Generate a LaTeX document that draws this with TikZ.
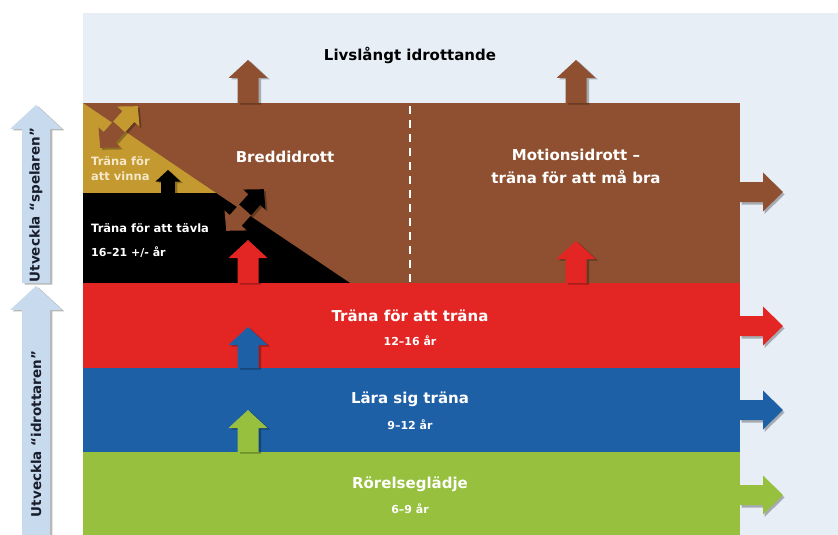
\documentclass[tikz,border=0pt]{standalone}
\usepackage{fontspec}
\setmainfont{DejaVu Sans}

\definecolor{panelblue}{RGB}{231,238,246}
\definecolor{sportbrown}{RGB}{142,80,48}
\definecolor{wingold}{RGB}{196,154,48}
\definecolor{trainred}{RGB}{227,38,36}
\definecolor{learnblue}{RGB}{30,96,166}
\definecolor{joygreen}{RGB}{150,192,61}
\definecolor{sidearrow}{RGB}{200,218,237}
\definecolor{vinnatext}{RGB}{245,232,200}
\definecolor{sidetext}{RGB}{25,30,45}

% block arrow pointing up: [scale]{colour}{x}{tip y}{base y}
\newcommand\liftarrow[5][1]{%
  \foreach \dx/\dy/\fc in {2.5/1.5/arrowshadow, 0/0/#2}
    \fill[\fc, shift={(\dx,\dy)}] (#3-10.5*#1,#5) -- (#3-10.5*#1,#4+18*#1)
      -- (#3-19.5*#1,#4+18*#1) -- (#3,#4) -- (#3+19.5*#1,#4+18*#1)
      -- (#3+10.5*#1,#4+18*#1) -- (#3+10.5*#1,#5) -- cycle;
}
% block arrow pointing right: {colour}{y}{base x}{tip x}
\newcommand\pusharrow[4]{%
  \foreach \dx/\dy/\fc in {1.5/2.5/arrowshadow, 0/0/#1}
    \fill[\fc, shift={(\dx,\dy)}] (#3,#2-10) -- (#4-20,#2-10) -- (#4-20,#2-19.5)
      -- (#4,#2) -- (#4-20,#2+19.5) -- (#4-20,#2+10) -- (#3,#2+10) -- cycle;
}
% two-way arrow across the slope: [half length]{x}{y}{angle}{upper colour}{lower colour}
\newcommand\crossarrow[6][27]{%
  \begin{scope}[shift={(#2+2,#3+2)}, rotate=#4]
    \fill[arrowshadow] (-#1+14,-8) -- (-#1+14,-15) -- (-#1,0) -- (-#1+14,15)
      -- (-#1+14,8) -- (#1-14,8) -- (#1-14,15) -- (#1,0) -- (#1-14,-15)
      -- (#1-14,-8) -- cycle;
  \end{scope}
  \begin{scope}[shift={(#2,#3)}, rotate=#4]
    \fill[#5] (0,-8) -- (#1-14,-8) -- (#1-14,-15) -- (#1,0) -- (#1-14,15)
      -- (#1-14,8) -- (0,8) -- cycle;
    \fill[#6] (0,-8) -- (-#1+14,-8) -- (-#1+14,-15) -- (-#1,0) -- (-#1+14,15)
      -- (-#1+14,8) -- (0,8) -- cycle;
  \end{scope}
}

\begin{document}
\begin{tikzpicture}[x=1pt, y=-1pt,
  arrowshadow/.style={fill=black, fill opacity=.28},
  bandtitle/.style={text=white, font=\bfseries\fontsize{15}{23}\selectfont, align=center},
  bandage/.style={text=white, font=\bfseries\fontsize{11}{13}\selectfont},
  smalltitle/.style={text=white, font=\bfseries\fontsize{11.5}{15}\selectfont,
    anchor=west, align=left, inner sep=0pt},
  sidelabel/.style={text=sidetext, font=\bfseries\fontsize{13.5}{15}\selectfont, rotate=90}]
\useasboundingbox (0,0) rectangle (838,535);
\fill[panelblue] (83,13) rectangle (838,535);

% elite and broad sport
\fill[sportbrown] (83,103) rectangle (740,283);
\fill[wingold] (83,103) -- (216,193) -- (83,193) -- cycle;
\fill[black] (83,193) -- (216,193) -- (350,283) -- (83,283) -- cycle;
\draw[white, line width=1.6pt, dash pattern=on 8pt off 6pt] (410,106) -- (410,283);

% the three bands
\fill[trainred] (83,283) rectangle (740,368);
\fill[learnblue] (83,368) rectangle (740,452);
\fill[joygreen] (83,452) rectangle (740,535);

% arrows
\liftarrow{sportbrown}{248}{60}{103}
\liftarrow{sportbrown}{576}{60}{103}
\liftarrow{trainred}{248}{240}{283}
\liftarrow{trainred}{576}{241}{283}
\liftarrow{learnblue}{248}{327}{368}
\liftarrow{joygreen}{248}{410}{452}
\liftarrow[.65]{black}{168}{170}{193}
\pusharrow{sportbrown}{192}{740}{783}
\pusharrow{trainred}{326}{740}{783}
\pusharrow{learnblue}{410}{740}{783}
\pusharrow{joygreen}{495}{740}{783}
\crossarrow[28]{119}{127}{48}{wingold}{sportbrown}
\crossarrow[28]{245}{210}{48}{black}{sportbrown}

% side arrows
\liftarrow[1.33]{sidearrow}{36}{105}{283}
\liftarrow[1.33]{sidearrow}{36}{286}{540}
\node[sidelabel] (spelaren) at (36,205) {Utveckla “spelaren”};
\node[sidelabel] (idrottaren) at (36,434) {Utveckla “idrottaren”};

% texts
\node[font=\bfseries\fontsize{15}{18}\selectfont] (livslangt) at (410,55) {Livslångt idrottande};
\node[bandtitle] (bredd) at (285,157) {Breddidrott};
\node[bandtitle] (motion) at (576,166) {Motionsidrott –\\träna för att må bra};
\node[smalltitle, text=vinnatext] (vinna) at (91,169) {Träna för\\att vinna};
\node[smalltitle] (tavla) at (91,228) {Träna för att tävla};
\node[bandage, anchor=west, inner sep=0pt] (tavlaage) at (91,252) {16–21 +/- år};
\node[bandtitle] (tranatrana) at (410,316) {Träna för att träna};
\node[bandage] (tranaage) at (410,341) {12–16 år};
\node[bandtitle] (lara) at (410,399) {Lära sig träna};
\node[bandage] (laraage) at (410,425) {9–12 år};
\node[bandtitle] (rorelse) at (410,484) {Rörelseglädje};
\node[bandage] (rorelseage) at (410,509) {6–9 år};
\end{tikzpicture}
\end{document}
